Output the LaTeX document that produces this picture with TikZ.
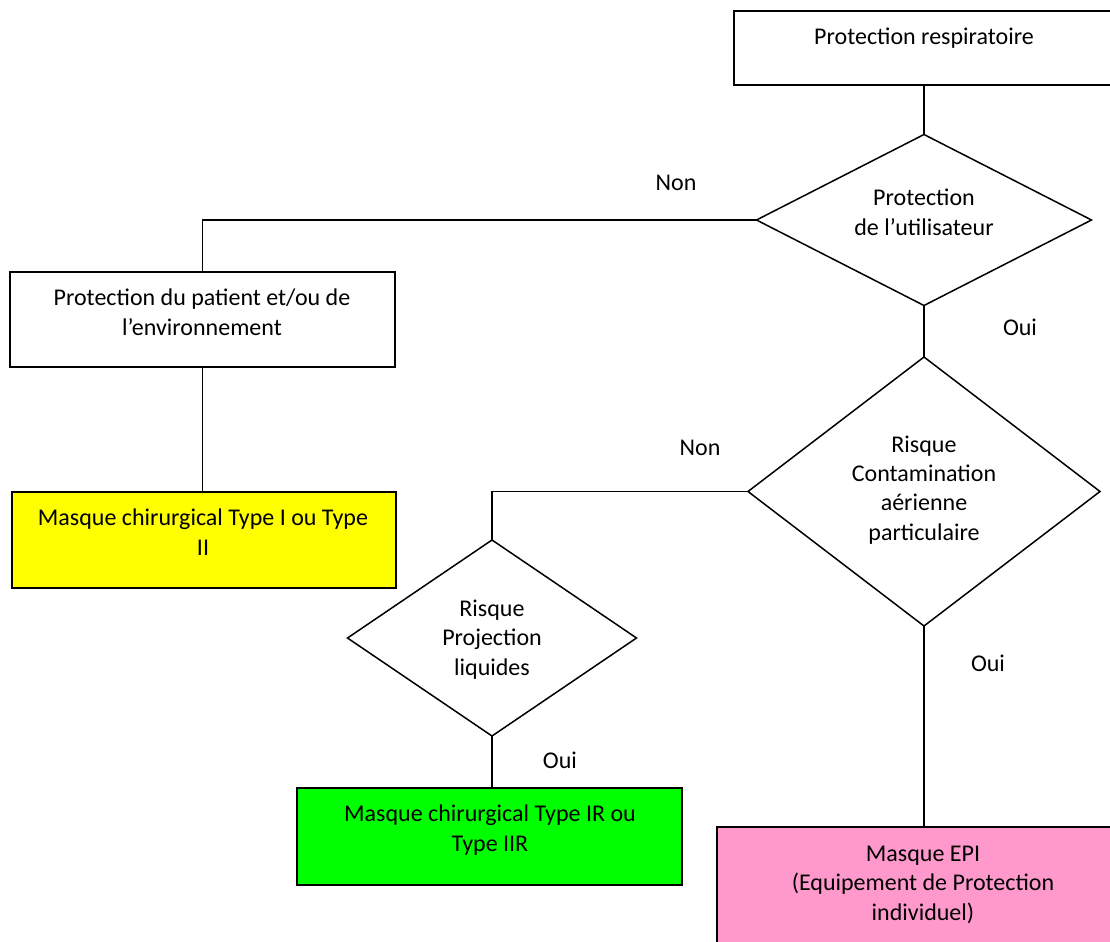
\documentclass[tikz,border=0pt]{standalone}
\usepackage{fontspec}
\setmainfont{Carlito}
\usetikzlibrary{shapes.geometric}
\tikzset{
  box/.style={draw, line width=1pt, anchor=north west, inner sep=0pt, outer sep=0pt},
  txt/.style={anchor=base, align=center, inner sep=0pt, font=\fontsize{12}{14.6}\selectfont},
  dia/.style={draw, diamond, line width=0.75pt, inner sep=0pt, outer sep=0pt},
  conn/.style={line width=0.75pt},
  lab/.style={anchor=base, inner sep=0pt, font=\fontsize{12}{14.6}\selectfont}
}
\begin{document}
\begin{tikzpicture}[x=0.5pt,y=-0.5pt]
\useasboundingbox (0,0) rectangle (1110,942);
\clip (0,0) rectangle (1110,942);
\fill[white] (0,0) rectangle (1110,942);

% boxes
\node[box, minimum width=190pt, minimum height=37pt] (b1) at (734,11) {};
\node[box, minimum width=192.5pt, minimum height=47.5pt] (b2) at (10,272) {};
\node[box, fill={rgb,255:red,255;green,255;blue,0}, minimum width=192pt, minimum height=48pt] (by) at (12,492) {};
\node[box, fill={rgb,255:red,0;green,255;blue,0}, minimum width=192.5pt, minimum height=48.5pt] (bg) at (297,788) {};
\node[box, fill={rgb,255:red,255;green,153;blue,204}, minimum width=206pt, minimum height=65pt] (bp) at (717,827) {};

% box texts (anchor = baseline of last line)
\node[txt] (t1) at (924,45) {Protection respiratoire};
\node[txt] (t2) at (202,335) {Protection du patient et/ou de\\l’environnement};
\node[txt] (ty) at (203,555) {Masque chirurgical Type I ou Type\\II};
\node[txt] (tg) at (490,851) {Masque chirurgical Type IR ou\\Type IIR};
\node[txt] (tp) at (923,920) {Masque EPI\\(Equipement de Protection\\individuel)};

% diamonds
\node[dia, minimum width=167.5pt, minimum height=85.5pt] (d1) at (924,220) {};
\node[dia, minimum width=176pt, minimum height=134.5pt] (d2) at (924,491.5) {};
\node[dia, minimum width=144.5pt, minimum height=98pt] (d3) at (492,638) {};
\node[txt] (d1t) at (924,235) {Protection\\de l’utilisateur};
\node[txt] (d2t) at (924,540) {Risque\\Contamination\\aérienne\\particulaire};
\node[txt] (d3t) at (492,675) {Risque\\Projection\\liquides};

% connectors
\draw[conn] (b1.south) -- (d1.north);
\draw[conn] (d1.west) -| (b2.north);
\draw[conn] (b2.south) -- (b2.south |- by.north);
\draw[conn] (d1.south) -- (d2.north);
\draw[conn] (d2.west) -| (d3.north);
\draw[conn] (d3.south) -- (d3.south |- bg.north);
\draw[conn] (d2.south) -- (d2.south |- bp.north);

% labels
\node[lab] (l1) at (676,190) {Non};
\node[lab] (l2) at (1020,335) {Oui};
\node[lab] (l3) at (700,455) {Non};
\node[lab] (l4) at (988,671) {Oui};
\node[lab] (l5) at (560,768) {Oui};
\end{tikzpicture}
\end{document}
